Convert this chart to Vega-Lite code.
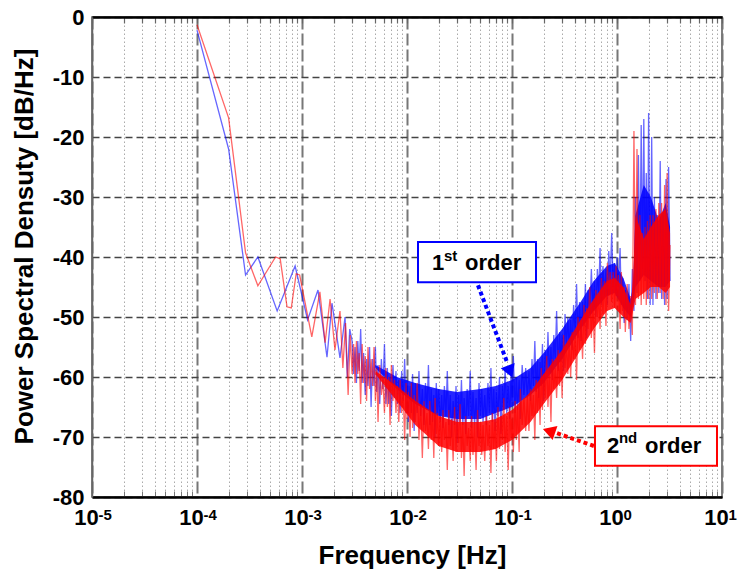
{
"$schema": "https://vega.github.io/schema/vega-lite/v6.json",
"width": 630, "height": 480,
"autosize": {"type": "none"},
"padding": {"left": 92, "top": 17, "right": 16, "bottom": 76},
"config": {"font": "Liberation Sans", "view": {"stroke": "#555", "strokeWidth": 1.5}},
"datasets": {
"psd": [
{"f":0.0001,"b":-2.2},{"f":0.0002,"b":-22},{"f":0.00029,"b":-43},{"f":0.00038,"b":-40},{"f":0.00058,"b":-49},{"f":0.00086,"b":-41.5},{"f":0.00113,"b":-50.5},{"f":0.00142,"b":-45.5},{"f":0.00173,"b":-56.7},{"f":0.00193,"b":-47.7},{"f":0.0023,"b":-56.8},{"f":0.00257,"b":-50},{"f":0.0027,"b":-60},{"f":0.00285,"b":-52},
{"f":0.0001,"r":-1.3},{"f":0.0002,"r":-16.8},{"f":0.00029,"r":-39.3},{"f":0.00038,"r":-44.8},{"f":0.00056,"r":-40},{"f":0.00062,"r":-40.3},{"f":0.00072,"r":-48.3},{"f":0.00079,"r":-48.5},{"f":0.00088,"r":-42.8},{"f":0.00095,"r":-43},{"f":0.00124,"r":-53.3},{"f":0.00148,"r":-45.8},{"f":0.00166,"r":-54.3},{"f":0.00185,"r":-47},{"f":0.00206,"r":-55.5},{"f":0.0023,"r":-49},{"f":0.00245,"r":-58.5},{"f":0.0026,"r":-51},{"f":0.00275,"r":-63},{"f":0.00288,"r":-53},
{"f":0.003,"b":-54,"r":-59.5},{"f":0.0031,"b":-59.5,"r":-54.5},{"f":0.0032,"b":-55,"r":-61},{"f":0.0033,"b":-61,"r":-54},{"f":0.0034,"b":-54,"r":-59.5},{"f":0.0035,"b":-59,"r":-56},{"f":0.00362,"b":-52,"r":-64.5},{"f":0.00374,"b":-61,"r":-54.5},{"f":0.00386,"b":-56,"r":-61},{"f":0.004,"b":-63,"r":-56.5},
{"f":0.00412,"b":-57,"r":-64},{"f":0.00425,"b":-61.5,"r":-55},{"f":0.0044,"b":-55,"r":-62},{"f":0.00455,"b":-65,"r":-57},{"f":0.0047,"b":-57,"r":-61.5},{"f":0.00485,"b":-61.5,"r":-55},{"f":0.005,"b":-55,"r":-64},{"f":0.00515,"b":-62.5,"r":-58.5},{"f":0.0053,"b":-58,"r":-67.5},{"f":0.0055,"b":-64.5,"r":-58},
{"f":0.0057,"b":-57,"r":-63},{"f":0.0059,"b":-62,"r":-60.5},{"f":0.0061,"b":-54.5,"r":-66},{"f":0.0063,"b":-64.5,"r":-58.5},{"f":0.0065,"b":-58.5,"r":-65},{"f":0.0067,"b":-64.5,"r":-60},{"f":0.0069,"b":-60,"r":-68},{"f":0.0071,"b":-66.5,"r":-58},{"f":0.00735,"b":-58,"r":-64},{"f":0.0076,"b":-63.5,"r":-60.5},
{"f":0.00785,"b":-59,"r":-66},{"f":0.0081,"b":-64.5,"r":-61.5},{"f":0.00835,"b":-60.5,"r":-67.5},{"f":0.0086,"b":-66,"r":-60.5},{"f":0.0089,"b":-59,"r":-66},{"f":0.0092,"b":-64,"r":-62.5},{"f":0.0095,"b":-57,"r":-70.5},{"f":0.0098,"b":-66,"r":-61},
{"f":0.01,"b":-60.5,"r":-67},{"f":0.0103,"b":-67.5,"r":-62.5},{"f":0.0107,"b":-61.5,"r":-70},{"f":0.011,"b":-66,"r":-61},{"f":0.0113,"b":-59.5,"r":-68.5},{"f":0.0117,"b":-69,"r":-63},{"f":0.012,"b":-61,"r":-67.5},{"f":0.0125,"b":-66,"r":-61},{"f":0.013,"b":-59,"r":-70.5},{"f":0.0135,"b":-66.5,"r":-64.5},
{"f":0.014,"b":-62,"r":-73.5},{"f":0.0145,"b":-68,"r":-64},{"f":0.015,"b":-61,"r":-69},{"f":0.0155,"b":-65.5,"r":-66},{"f":0.016,"b":-58,"r":-72},{"f":0.0165,"b":-68,"r":-64},{"f":0.017,"b":-62,"r":-70.5},{"f":0.0175,"b":-67.5,"r":-66},{"f":0.018,"b":-63,"r":-73.5},{"f":0.0185,"b":-70,"r":-63.5},
{"f":0.019,"b":-61,"r":-69.5},{"f":0.0195,"b":-66.5,"r":-66},{"f":0.02,"b":-62,"r":-71.5},{"f":0.0207,"b":-67.5,"r":-66.5},{"f":0.0214,"b":-63,"r":-72.5},{"f":0.022,"b":-68.5,"r":-65.5},{"f":0.0227,"b":-61.5,"r":-70.5},{"f":0.0235,"b":-66.5,"r":-67.5},{"f":0.0242,"b":-59,"r":-75.5},{"f":0.025,"b":-68,"r":-65.5},
{"f":0.0258,"b":-63,"r":-71.5},{"f":0.0266,"b":-70,"r":-67},{"f":0.0275,"b":-64,"r":-74},{"f":0.0284,"b":-68,"r":-65},{"f":0.0293,"b":-61.5,"r":-72.5},{"f":0.03,"b":-71,"r":-67},{"f":0.031,"b":-63,"r":-71},{"f":0.032,"b":-67.5,"r":-64.5},{"f":0.033,"b":-60.5,"r":-73.5},{"f":0.034,"b":-68,"r":-67.5},
{"f":0.035,"b":-63.5,"r":-76.5},{"f":0.0362,"b":-69.5,"r":-66.5},{"f":0.0374,"b":-62,"r":-71.5},{"f":0.0386,"b":-66.5,"r":-68.5},{"f":0.04,"b":-59,"r":-74},{"f":0.0412,"b":-68.5,"r":-66.5},{"f":0.0425,"b":-62.5,"r":-73},{"f":0.044,"b":-68,"r":-68},{"f":0.0455,"b":-63.5,"r":-75.5},{"f":0.047,"b":-70,"r":-65.5},
{"f":0.0485,"b":-61,"r":-71.5},{"f":0.05,"b":-66.5,"r":-67.5},{"f":0.0515,"b":-62,"r":-73},{"f":0.053,"b":-67.5,"r":-68},{"f":0.055,"b":-63,"r":-74},{"f":0.057,"b":-68,"r":-66.5},{"f":0.059,"b":-61,"r":-71.5},{"f":0.061,"b":-66,"r":-68},{"f":0.063,"b":-58.5,"r":-76},{"f":0.065,"b":-67.5,"r":-66},
{"f":0.067,"b":-62,"r":-72},{"f":0.069,"b":-69,"r":-67.5},{"f":0.071,"b":-62.5,"r":-74},{"f":0.0735,"b":-66.5,"r":-65},{"f":0.076,"b":-60,"r":-72},{"f":0.0785,"b":-69.5,"r":-66.5},{"f":0.081,"b":-61.5,"r":-70.5},{"f":0.0835,"b":-65.5,"r":-63.5},{"f":0.086,"b":-58.5,"r":-72.5},{"f":0.089,"b":-66,"r":-66.5},
{"f":0.092,"b":-61.5,"r":-75.5},{"f":0.095,"b":-67,"r":-65},{"f":0.098,"b":-59.5,"r":-70},
{"f":0.1,"b":-64,"r":-67},{"f":0.103,"b":-56.5,"r":-72.5},{"f":0.107,"b":-66,"r":-64},{"f":0.11,"b":-60,"r":-70.5},{"f":0.113,"b":-65.5,"r":-65},{"f":0.117,"b":-60.5,"r":-72.5},{"f":0.12,"b":-67,"r":-62},{"f":0.125,"b":-58,"r":-68},{"f":0.13,"b":-63,"r":-63.5},{"f":0.135,"b":-58.5,"r":-69},
{"f":0.14,"b":-63.5,"r":-63.5},{"f":0.145,"b":-59,"r":-69},{"f":0.15,"b":-64,"r":-62},{"f":0.155,"b":-57,"r":-66.5},{"f":0.16,"b":-61.5,"r":-63},{"f":0.165,"b":-54,"r":-70.5},{"f":0.17,"b":-62.5,"r":-60.5},{"f":0.175,"b":-57,"r":-66},{"f":0.18,"b":-63.5,"r":-61},{"f":0.185,"b":-57.5,"r":-68},
{"f":0.19,"b":-61.5,"r":-58.5},{"f":0.195,"b":-54.5,"r":-65.5},{"f":0.2,"b":-64,"r":-59.5},{"f":0.207,"b":-55.5,"r":-63.5},{"f":0.214,"b":-59.5,"r":-56.5},{"f":0.22,"b":-52.5,"r":-65},{"f":0.227,"b":-59.5,"r":-59},{"f":0.235,"b":-55,"r":-67.5},{"f":0.242,"b":-60.5,"r":-57},{"f":0.25,"b":-53,"r":-62},
{"f":0.258,"b":-57,"r":-58.5},{"f":0.266,"b":-49,"r":-63.5},{"f":0.275,"b":-59,"r":-55.5},{"f":0.284,"b":-52.5,"r":-61.5},{"f":0.293,"b":-57.5,"r":-56},{"f":0.3,"b":-53,"r":-63.5},{"f":0.31,"b":-59,"r":-53},{"f":0.32,"b":-49.5,"r":-58.5},{"f":0.33,"b":-55,"r":-54.5},{"f":0.34,"b":-50,"r":-59.5},
{"f":0.35,"b":-55,"r":-54},{"f":0.362,"b":-50.5,"r":-60},{"f":0.374,"b":-55.5,"r":-52.5},{"f":0.386,"b":-48,"r":-57},{"f":0.4,"b":-52.5,"r":-53},{"f":0.412,"b":-44.5,"r":-60.5},{"f":0.425,"b":-53.5,"r":-50},{"f":0.44,"b":-47.5,"r":-55.5},{"f":0.455,"b":-54,"r":-50.5},{"f":0.47,"b":-47.5,"r":-57},
{"f":0.485,"b":-51.5,"r":-48},{"f":0.5,"b":-44.5,"r":-54.5},{"f":0.515,"b":-53.5,"r":-48.5},{"f":0.53,"b":-45.5,"r":-52},{"f":0.55,"b":-49.5,"r":-45},{"f":0.57,"b":-42,"r":-53.5},{"f":0.59,"b":-49,"r":-47.5},{"f":0.61,"b":-44,"r":-56},{"f":0.63,"b":-50,"r":-45.5},{"f":0.65,"b":-42,"r":-50},
{"f":0.67,"b":-46,"r":-46.5},{"f":0.69,"b":-38.5,"r":-52},{"f":0.71,"b":-48,"r":-43.5},{"f":0.735,"b":-41.5,"r":-49.5},{"f":0.76,"b":-46.5,"r":-44},{"f":0.785,"b":-42,"r":-51.5},{"f":0.81,"b":-48,"r":-41},{"f":0.835,"b":-39,"r":-46.5},{"f":0.86,"b":-44.5,"r":-42.5},{"f":0.89,"b":-36,"r":-47.5},
{"f":0.92,"b":-45,"r":-42.5},{"f":0.95,"b":-41,"r":-48.5},{"f":0.98,"b":-46.5,"r":-41.5},
{"f":1,"b":-40,"r":-46.5},{"f":1.03,"b":-45,"r":-43},{"f":1.07,"b":-38.5,"r":-52},{"f":1.1,"b":-48,"r":-42.5},{"f":1.13,"b":-43.5,"r":-49},{"f":1.17,"b":-51,"r":-45},{"f":1.2,"b":-45.5,"r":-52.5},{"f":1.25,"b":-50.5,"r":-44.5},{"f":1.3,"b":-44.5,"r":-52},{"f":1.35,"b":-54,"r":-46.5},
{"f":1.4,"b":-42,"r":-53},{"f":1.45,"b":-49,"r":-19},{"f":1.5,"b":-30,"r":-48},{"f":1.55,"b":-46,"r":-22},{"f":1.6,"b":-23,"r":-47},{"f":1.65,"b":-44,"r":-33},{"f":1.7,"b":-18,"r":-48},{"f":1.75,"b":-42,"r":-36},{"f":1.8,"b":-17,"r":-47},{"f":1.85,"b":-44,"r":-35},
{"f":1.9,"b":-26,"r":-48},{"f":1.95,"b":-47,"r":-34},{"f":2,"b":-16,"r":-47},{"f":2.07,"b":-48,"r":-33},{"f":2.14,"b":-20,"r":-47},{"f":2.2,"b":-48,"r":-33},{"f":2.27,"b":-30,"r":-46},{"f":2.35,"b":-47,"r":-32},{"f":2.42,"b":-33,"r":-47},{"f":2.5,"b":-46,"r":-31},
{"f":2.58,"b":-24,"r":-46},{"f":2.66,"b":-47,"r":-31},{"f":2.75,"b":-33,"r":-47},{"f":2.84,"b":-48,"r":-28},{"f":2.93,"b":-27,"r":-48},{"f":3,"b":-47,"r":-26},{"f":3.1,"b":-25,"r":-49},{"f":3.2,"b":-44,"r":-38}
],
"core": [
{"f":0.005,"bh":-58,"bl":-58.5,"rh":-59,"rl":-59.5},
{"f":0.008,"bh":-60,"bl":-62,"rh":-61.5,"rl":-64},
{"f":0.012,"bh":-61,"bl":-64.5,"rh":-64,"rl":-68},
{"f":0.02,"bh":-62,"bl":-66.5,"rh":-66.5,"rl":-71.5},
{"f":0.03,"bh":-62.5,"bl":-67,"rh":-67.5,"rl":-72.5},
{"f":0.05,"bh":-62,"bl":-67,"rh":-67.5,"rl":-72.5},
{"f":0.07,"bh":-61.5,"bl":-66,"rh":-67,"rl":-72},
{"f":0.1,"bh":-60.5,"bl":-65,"rh":-65.5,"rl":-70.5},
{"f":0.15,"bh":-58.5,"bl":-63,"rh":-62.5,"rl":-67.5},
{"f":0.2,"bh":-56,"bl":-61,"rh":-59.5,"rl":-64.5},
{"f":0.3,"bh":-52,"bl":-57,"rh":-55.5,"rl":-60.5},
{"f":0.45,"bh":-47.5,"bl":-52,"rh":-50.5,"rl":-55.5},
{"f":0.6,"bh":-44,"bl":-49,"rh":-47,"rl":-52},
{"f":0.8,"bh":-41.5,"bl":-46.5,"rh":-44,"rl":-49},
{"f":0.95,"bh":-41,"bl":-46,"rh":-43.5,"rl":-48.5},
{"f":1.15,"bh":-43.5,"bl":-48.5,"rh":-45,"rl":-50},
{"f":1.35,"bh":-47,"bl":-50,"rh":-48,"rl":-51},
{"f":1.42,"bh":-45,"bl":-48,"rh":-44,"rl":-49},
{"f":1.5,"bh":-33,"bl":-45,"rh":-33,"rl":-47},
{"f":1.8,"bh":-28,"bl":-43,"rh":-37,"rl":-46},
{"f":2.1,"bh":-30,"bl":-44,"rh":-35,"rl":-45},
{"f":2.5,"bh":-34,"bl":-45,"rh":-33,"rl":-45},
{"f":2.9,"bh":-31,"bl":-45,"rh":-32,"rl":-46},
{"f":3.2,"bh":-35,"bl":-44,"rh":-36,"rl":-45}
],
"ann": [
{"id":1,"x1":0.01273,"x2":0.1693,"y1":-37.5,"y2":-44.2,"tx":0.0464,"ty":-40.8,"ax1":0.0474,"ay1":-44.7,"ax2":0.0896,"ay2":-57.5,"hx":0.0957,"hy":-59.1},
{"id":2,"x1":0.617,"x2":8.96,"y1":-68.2,"y2":-74.8,"tx":2.35,"ty":-71.5,"ax1":0.603,"ay1":-71.5,"ax2":0.262,"ay2":-69.3,"hx":0.225,"hy":-69}
]
},
"resolve": {"axis": {"x": "independent", "y": "independent"}},
"layer": [
{
"data": {"name": "core"},
"mark": {"type": "area", "color": "#0000ff", "opacity": 0.85},
"encoding": {
"x": {"field": "f", "type": "quantitative", "scale": {"type": "log", "domain": [0.00001, 10]},
"axis": {"orient": "bottom", "values": [0.00002,0.00003,0.00004,0.00005,0.00006,0.00007,0.00008,0.00009,0.0002,0.0003,0.0004,0.0005,0.0006,0.0007,0.0008,0.0009,0.002,0.003,0.004,0.005,0.006,0.007,0.008,0.009,0.02,0.03,0.04,0.05,0.06,0.07,0.08,0.09,0.2,0.3,0.4,0.5,0.6,0.7,0.8,0.9,2,3,4,5,6,7,8,9],
"labels": false, "ticks": true, "tickSize": -6, "tickColor": "#777", "tickWidth": 1, "domain": false,
"grid": true, "gridColor": "#aaa", "gridDash": [1.5, 2.5], "gridWidth": 1, "title": null}},
"y": {"field": "bl", "type": "quantitative", "scale": {"domain": [-80, 0], "nice": false, "zero": false},
"axis": {"orient": "left", "values": [-80,-70,-60,-50,-40,-30,-20,-10,0], "labelExpr": "datum.value + ''",
"labelFontSize": 22, "labelFontWeight": "bold", "labelColor": "black", "labelPadding": 8, "ticks": false,
"domainColor": "#666", "domainWidth": 1.5,
"grid": true, "gridColor": "#444", "gridDash": [7, 4], "gridWidth": 1.5,
"title": "Power Spectral Densuty [dB/Hz]", "titleFontSize": 26, "titleFontWeight": "bold", "titleColor": "black",
"titleX": -68, "titleY": 229, "titleBaseline": "middle", "titleAngle": -90}},
"y2": {"field": "bh"}
}
},
{
"data": {"name": "psd"},
"transform": [{"filter": "isValid(datum.b)"}],
"mark": {"type": "line", "color": "#0000ff", "strokeWidth": 1.3, "opacity": 0.6, "clip": true},
"encoding": {
"x": {"field": "f", "type": "quantitative", "scale": {"type": "log", "domain": [0.00001, 10]}, "axis": null},
"y": {"field": "b", "type": "quantitative", "scale": {"domain": [-80, 0], "nice": false, "zero": false}, "axis": null}
}
},
{
"data": {"name": "core"},
"mark": {"type": "area", "color": "#ff0000", "opacity": 0.85},
"encoding": {
"x": {"field": "f", "type": "quantitative", "scale": {"type": "log", "domain": [0.00001, 10]}, "axis": null},
"y": {"field": "rl", "type": "quantitative", "scale": {"domain": [-80, 0], "nice": false, "zero": false}, "axis": null},
"y2": {"field": "rh"}
}
},
{
"data": {"name": "psd"},
"transform": [{"filter": "isValid(datum.r)"}],
"mark": {"type": "line", "color": "#ff0000", "strokeWidth": 1.3, "opacity": 0.6, "clip": true},
"encoding": {
"x": {"field": "f", "type": "quantitative", "scale": {"type": "log", "domain": [0.00001, 10]},
"axis": {"orient": "bottom", "values": [0.00001,0.0001,0.001,0.01,0.1,1,10], "labelExpr": "'10'",
"labelFontSize": 22, "labelFontWeight": "bold", "labelColor": "black", "labelOffset": -6, "labelPadding": 10, "labelFlush": false, "labelAlign": "center",
"ticks": false, "domain": true, "domainColor": "black", "domainWidth": 2.5,
"grid": true, "gridColor": "#777", "gridDash": [12, 4], "gridWidth": 2,
"title": "Frequency [Hz]", "titleFontSize": 26, "titleFontWeight": "bold", "titleColor": "black",
"titleX": 320, "titleY": 58, "titleBaseline": "middle"}},
"y": {"field": "r", "type": "quantitative", "scale": {"domain": [-80, 0], "nice": false, "zero": false}, "axis": null}
}
},
{
"data": {"name": "ann"},
"mark": {"type": "rect", "fill": "white", "strokeWidth": 2},
"encoding": {
"x": {"field": "x1", "type": "quantitative", "scale": {"type": "log", "domain": [0.00001, 10]},
"axis": {"orient": "top", "values": [0.00001,0.00002,0.00003,0.00004,0.00005,0.00006,0.00007,0.00008,0.00009,0.0001,0.0002,0.0003,0.0004,0.0005,0.0006,0.0007,0.0008,0.0009,0.001,0.002,0.003,0.004,0.005,0.006,0.007,0.008,0.009,0.01,0.02,0.03,0.04,0.05,0.06,0.07,0.08,0.09,0.1,0.2,0.3,0.4,0.5,0.6,0.7,0.8,0.9,1,2,3,4,5,6,7,8,9,10],
"labels": false, "ticks": true, "tickSize": -6, "tickColor": "#666", "tickWidth": 1.2,
"domain": true, "domainColor": "black", "domainWidth": 2.5, "grid": false, "title": null}},
"x2": {"field": "x2"},
"y": {"field": "y1", "type": "quantitative", "scale": {"domain": [-80, 0], "nice": false, "zero": false}, "axis": null},
"y2": {"field": "y2"},
"stroke": {"field": "id", "type": "nominal", "scale": {"domain": [1, 2], "range": ["#0000ff", "#ff0000"]}, "legend": null}
}
},
{
"data": {"name": "ann"},
"mark": {"type": "rule", "strokeWidth": 4, "strokeDash": [4, 3], "strokeCap": "butt"},
"encoding": {
"x": {"field": "ax1", "type": "quantitative", "scale": {"type": "log", "domain": [0.00001, 10]},
"axis": {"orient": "bottom", "values": [0.00001,0.0001,0.001,0.01,0.1,1,10],
"labelExpr": "['-5','-4','-3','-2','-1','0','1'][round(log(datum.value)/LN10)+5]",
"labelFontSize": 15, "labelFontWeight": "bold", "labelColor": "black", "labelAlign": "left", "labelOffset": 6, "labelPadding": 10, "labelFlush": false,
"ticks": false, "domain": false, "grid": false, "title": null}},
"x2": {"field": "ax2"},
"y": {"field": "ay1", "type": "quantitative", "scale": {"domain": [-80, 0], "nice": false, "zero": false}, "axis": null},
"y2": {"field": "ay2"},
"color": {"field": "id", "type": "nominal", "scale": {"domain": [1, 2], "range": ["#0000ff", "#ff0000"]}, "legend": null}
}
},
{
"data": {"name": "ann"},
"transform": [{"filter": "datum.id == 1"}],
"mark": {"type": "point", "shape": "triangle-up", "filled": true, "size": 220, "angle": 159, "color": "#0000ff", "opacity": 1},
"encoding": {
"x": {"field": "hx", "type": "quantitative", "scale": {"type": "log", "domain": [0.00001, 10]}, "axis": null},
"y": {"field": "hy", "type": "quantitative", "scale": {"domain": [-80, 0], "nice": false, "zero": false}, "axis": null}
}
},
{
"data": {"name": "ann"},
"transform": [{"filter": "datum.id == 2"}],
"mark": {"type": "point", "shape": "triangle-up", "filled": true, "size": 220, "angle": 289, "color": "#ff0000", "opacity": 1},
"encoding": {
"x": {"field": "hx", "type": "quantitative", "scale": {"type": "log", "domain": [0.00001, 10]}, "axis": null},
"y": {"field": "hy", "type": "quantitative", "scale": {"domain": [-80, 0], "nice": false, "zero": false}, "axis": null}
}
},
{
"data": {"name": "ann"},
"transform": [{"filter": "datum.id == 1"}],
"mark": {"type": "text", "text": "1", "align": "left", "baseline": "alphabetic", "fontSize": 22, "fontWeight": "bold", "color": "black", "dx": -45, "dy": 8},
"encoding": {
"x": {"field": "tx", "type": "quantitative", "scale": {"type": "log", "domain": [0.00001, 10]}, "axis": null},
"y": {"field": "ty", "type": "quantitative", "scale": {"domain": [-80, 0], "nice": false, "zero": false}, "axis": null}
}
},
{
"data": {"name": "ann"},
"transform": [{"filter": "datum.id == 1"}],
"mark": {"type": "text", "text": "st", "align": "left", "baseline": "alphabetic", "fontSize": 15, "fontWeight": "bold", "color": "black", "dx": -33, "dy": -1},
"encoding": {
"x": {"field": "tx", "type": "quantitative", "scale": {"type": "log", "domain": [0.00001, 10]}, "axis": null},
"y": {"field": "ty", "type": "quantitative", "scale": {"domain": [-80, 0], "nice": false, "zero": false}, "axis": null}
}
},
{
"data": {"name": "ann"},
"transform": [{"filter": "datum.id == 1"}],
"mark": {"type": "text", "text": "order", "align": "left", "baseline": "alphabetic", "fontSize": 22, "fontWeight": "bold", "color": "black", "dx": -12, "dy": 8},
"encoding": {
"x": {"field": "tx", "type": "quantitative", "scale": {"type": "log", "domain": [0.00001, 10]}, "axis": null},
"y": {"field": "ty", "type": "quantitative", "scale": {"domain": [-80, 0], "nice": false, "zero": false}, "axis": null}
}
},
{
"data": {"name": "ann"},
"transform": [{"filter": "datum.id == 2"}],
"mark": {"type": "text", "text": "2", "align": "left", "baseline": "alphabetic", "fontSize": 22, "fontWeight": "bold", "color": "black", "dx": -49, "dy": 7},
"encoding": {
"x": {"field": "tx", "type": "quantitative", "scale": {"type": "log", "domain": [0.00001, 10]}, "axis": null},
"y": {"field": "ty", "type": "quantitative", "scale": {"domain": [-80, 0], "nice": false, "zero": false}, "axis": null}
}
},
{
"data": {"name": "ann"},
"transform": [{"filter": "datum.id == 2"}],
"mark": {"type": "text", "text": "nd", "align": "left", "baseline": "alphabetic", "fontSize": 15, "fontWeight": "bold", "color": "black", "dx": -37, "dy": -3},
"encoding": {
"x": {"field": "tx", "type": "quantitative", "scale": {"type": "log", "domain": [0.00001, 10]}, "axis": null},
"y": {"field": "ty", "type": "quantitative", "scale": {"domain": [-80, 0], "nice": false, "zero": false}, "axis": null}
}
},
{
"data": {"name": "ann"},
"transform": [{"filter": "datum.id == 2"}],
"mark": {"type": "text", "text": "order", "align": "left", "baseline": "alphabetic", "fontSize": 22, "fontWeight": "bold", "color": "black", "dx": -11, "dy": 7},
"encoding": {
"x": {"field": "tx", "type": "quantitative", "scale": {"type": "log", "domain": [0.00001, 10]}, "axis": null},
"y": {"field": "ty", "type": "quantitative", "scale": {"domain": [-80, 0], "nice": false, "zero": false}, "axis": null}
}
}
]
}
